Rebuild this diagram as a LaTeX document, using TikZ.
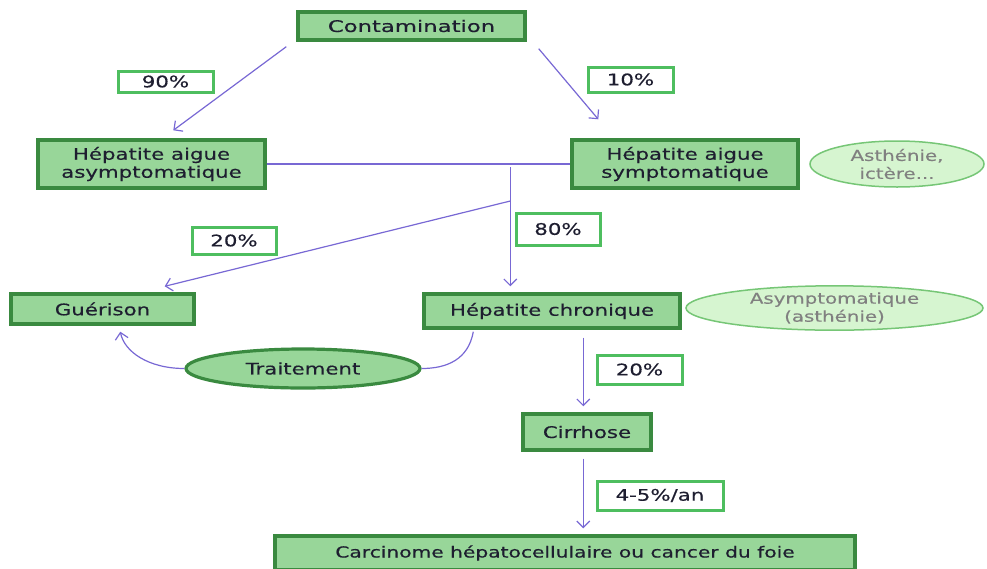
\documentclass[tikz,border=0pt]{standalone}
\usepackage{fontspec}
\setmainfont{DejaVu Sans}
\newfontfamily\boxfont[FakeStretch=1.33,FakeBold=0.4]{DejaVu Sans}
\newfontfamily\widefont[FakeStretch=1.42,FakeBold=0.4]{DejaVu Sans}
\newfontfamily\notefont[FakeStretch=1.32,FakeBold=0.2]{DejaVu Sans}
\usetikzlibrary{shapes.geometric,arrows.meta,calc}
\definecolor{boxfill}{RGB}{152,214,153}
\definecolor{boxline}{RGB}{58,138,64}
\definecolor{tagline}{RGB}{78,190,95}
\definecolor{notefill}{RGB}{214,245,208}
\definecolor{noteline}{RGB}{118,198,118}
\definecolor{flow}{RGB}{120,104,212}
\definecolor{ink}{RGB}{30,30,48}
\definecolor{noteink}{RGB}{128,128,128}

\begin{document}
\begin{tikzpicture}[x=1pt,y=-1pt,
  stage/.style={rectangle, draw=boxline, fill=boxfill, line width=3.4pt,
    inner sep=0pt, align=center, text=ink,
    font=\boxfont\fontsize{16}{18}\selectfont},
  tag/.style={rectangle, draw=tagline, fill=white, line width=3pt,
    inner sep=0pt, text=ink, font=\boxfont\fontsize{16}{18}\selectfont},
  note/.style={ellipse, draw=noteline, fill=notefill, line width=1.5pt,
    inner sep=0pt, align=center, text=noteink,
    font=\notefont\fontsize{15}{18}\selectfont},
  cure/.style={ellipse, draw=boxline, fill=boxfill, line width=3.2pt,
    inner sep=0pt, text=ink, font=\boxfont\fontsize{16}{18}\selectfont},
  link/.style={draw=flow, line width=1.2pt},
  flowto/.style={link, -{Straight Barb[length=6.5pt,width=13pt]}}
]
\useasboundingbox (0,0) rectangle (987,568);
\clip (0,0) rectangle (987,568);

% stages
\node[stage, minimum width=227pt, minimum height=28pt, font=\widefont\fontsize{16}{18}\selectfont]
  (c) at (411.5,26) {Contamination};
\node[stage, minimum width=227pt, minimum height=48pt] (ha) at (151.5,164)
  {Hépatite aigue\\asymptomatique};
\node[stage, minimum width=226pt, minimum height=48pt] (hs) at (685,164)
  {Hépatite aigue\\symptomatique};
\node[stage, minimum width=183pt, minimum height=30pt] (gu) at (102.5,309) {Guérison};
\node[stage, minimum width=256pt, minimum height=34pt] (hc) at (552,311) {Hépatite chronique};
\node[stage, minimum width=128pt, minimum height=36pt] (ci) at (587,432) {Cirrhose};
\node[stage, minimum width=580pt, minimum height=34pt, font=\boxfont\fontsize{15.2}{18}\selectfont]
  (ca) at (565,553) {Carcinome hépatocellulaire ou cancer du foie};

% side notes and treatment
\node[note, minimum width=174pt, minimum height=46pt] (ast) at (897,164) {Asthénie,\\ictère...};
\node[note, minimum width=297pt, minimum height=40pt] (asy) at (834.5,308)
  {Asymptomatique\\(asthénie)};
\node[cure, minimum width=234pt, minimum height=39pt] (tr) at (303,368.5) {Traitement};

% percentages
\node[tag, minimum width=95pt, minimum height=21pt] (p90) at (165.5,81.5) {90\%};
\node[tag, minimum width=85pt, minimum height=25pt] (p10) at (630.5,79.5) {10\%};
\node[tag, minimum width=84pt, minimum height=27pt] (p20a) at (234,240.5) {20\%};
\node[tag, minimum width=84pt, minimum height=32pt] (p80) at (558,229) {80\%};
\node[tag, minimum width=85pt, minimum height=29pt] (p20b) at (639.5,369.5) {20\%};
\node[tag, minimum width=126pt, minimum height=29pt] (p45) at (660,495.5) {4-5\%/an};

% connectors
\draw[flowto] ($(c.south west)+(-10,5)$) -- ($(ha.north west)+(137,-8)$);
\draw[flowto] ($(c.south east)+(12,7)$) -- ($(hs.north west)+(28,-19)$);
\draw[link] (ha.east) -- (hs.west);
\draw[flowto] ($(hs.west)+(-60,3)$) -- ($(hc.north west)+(88,-6)$);
\draw[flowto] ($(hs.west)+(-60,37)$) -- ($(gu.north east)+(-31,-6)$);
\draw[link] ($(hc.south west)+(51,2)$) .. controls ($(hc.south west)+(46,30)$) and ($(tr.east)+(25,0)$) .. (tr.east);
\draw[flowto] (tr.west) .. controls ($(tr.west)+(-36,0)$) and ($(gu.south west)+(115,26)$) .. ($(gu.south west)+(111,6)$);
\draw[flowto] ($(hc.south west)+(161,8)$) -- ($(ci.north west)+(62,-6)$);
\draw[flowto] ($(ci.south west)+(62,7)$) -- ($(ca.north west)+(310,-6)$);
\end{tikzpicture}
\end{document}
